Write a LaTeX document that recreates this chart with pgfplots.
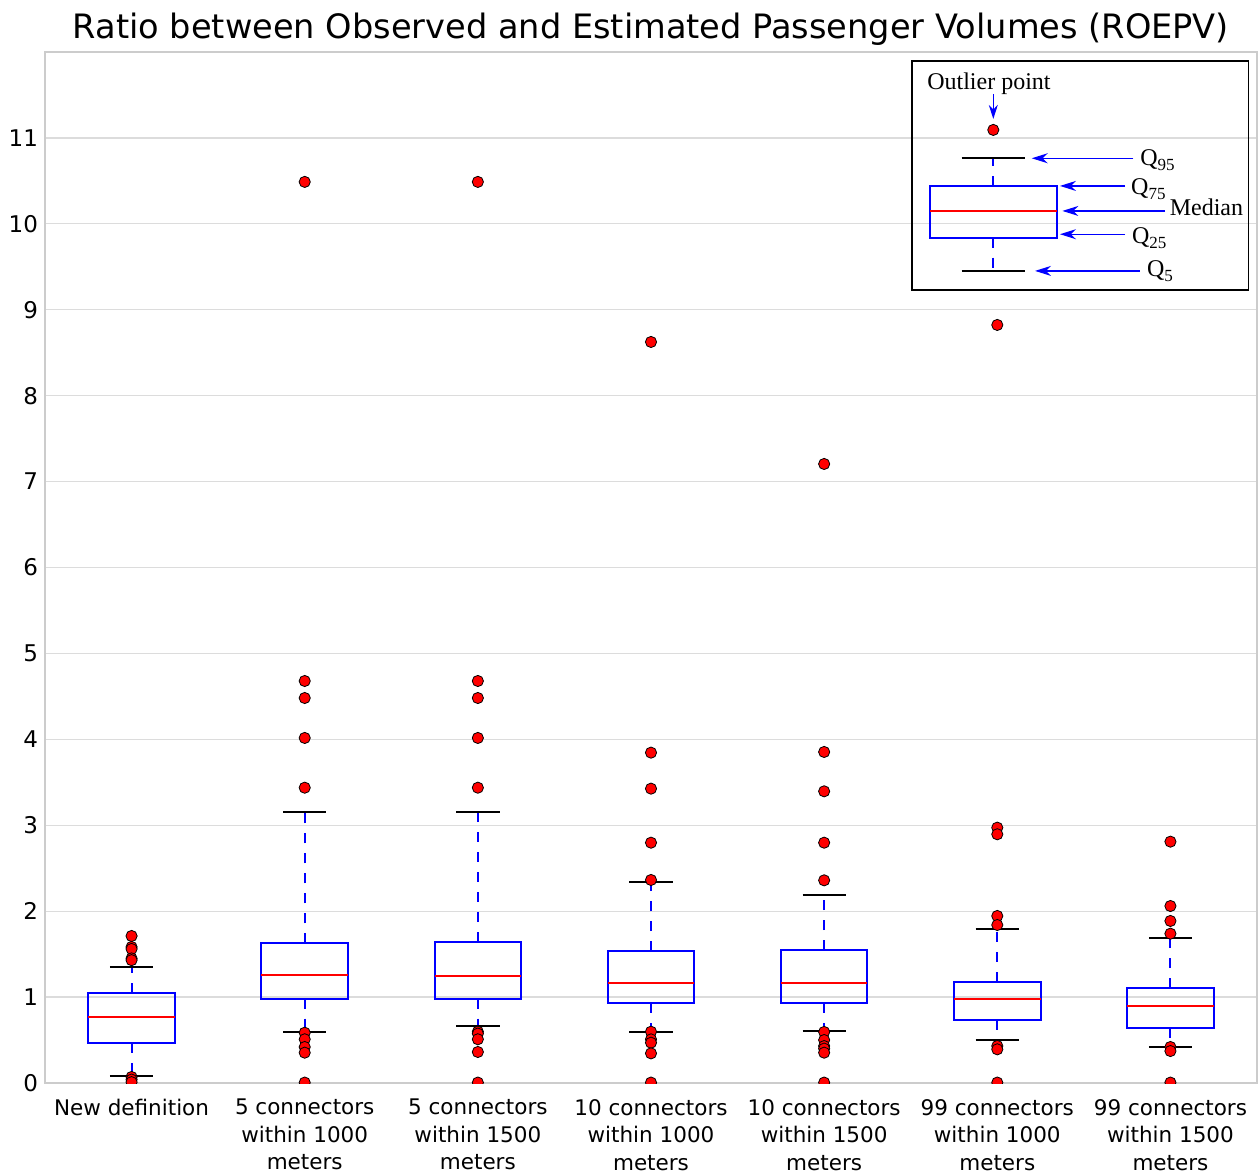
\documentclass[border=0pt]{standalone}
\usepackage{fontspec}
\setmainfont{DejaVu Sans}
\newfontfamily\legendfont{Liberation Serif}
\usepackage{pgfplots}
\pgfplotsset{compat=1.18}
\usepgfplotslibrary{statistics}
\usetikzlibrary{arrows.meta}
\definecolor{gridgray}{RGB}{220,220,220}
\definecolor{framegray}{RGB}{204,204,204}
\newcommand{\sub}[1]{\raisebox{-0.4ex}{\fontsize{8.5bp}{8.5bp}\selectfont #1}}
\begin{document}
\begin{tikzpicture}
\useasboundingbox (-22.5bp,-45bp) rectangle (607bp,541.5bp);
\begin{axis}[
  at={(0,0)}, anchor=south west,
  scale only axis, width=606bp, height=515.5bp,
  xmin=0.5, xmax=7.5, ymin=0, ymax=12,
  xtick={1,2,3,4,5,6,7},
  xticklabels={New definition,{5 connectors\\within 1000\\meters},{5 connectors\\within 1500\\meters},{10 connectors\\within 1000\\meters},{10 connectors\\within 1500\\meters},{99 connectors\\within 1000\\meters},{99 connectors\\within 1500\\meters}},
  ytick={0,1,2,3,4,5,6,7,8,9,10,11},
  ymajorgrids, grid style={draw=gridgray, line width=0.6bp},
  axis line style={draw=framegray, line width=0.8bp},
  major tick length=0pt,
  /pgf/number format/assume math mode=true,
  yticklabel style={font=\fontsize{11.5bp}{12bp}\selectfont},
  xticklabel style={font=\fontsize{10.75bp}{13.75bp}\selectfont, align=center, yshift=-4.5bp},
  title={Ratio between Observed and Estimated Passenger Volumes (ROEPV)},
  title style={font=\fontsize{16.8bp}{18bp}\selectfont, at={(0.5,1)}, anchor=base, yshift=1bp},
  clip marker paths=true,
  boxplot/draw direction=y,
  boxplot/box extend=0.5,
  boxplot/whisker extend=0.25,
  boxplot/every box/.style={draw=blue, line width=1bp},
  boxplot/every median/.style={draw=red, line width=1bp},
  boxplot/draw/whisker/.code 2 args={
    \draw[blue, line width=1bp, dash pattern=on 5bp off 5bp] (boxplot cs:#1) -- (boxplot cs:#2);
    \draw[black, line width=1bp] (boxplot whisker cs:#2,0) -- (boxplot whisker cs:#2,1);
  },
  every axis plot/.append style={mark=*, mark size=2.8bp, mark options={solid, fill=red, draw=black, line width=0.4bp}},
]
\addplot[blue, boxplot prepared={draw position=1, lower whisker=0.081, lower quartile=0.466, median=0.768, upper quartile=1.051, upper whisker=1.354}]
  table[row sep=\\, y index=0] {data\\1.711\\1.583\\1.56\\1.45\\1.43\\0.07\\0.04\\0.01\\};
\addplot[blue, boxplot prepared={draw position=2, lower whisker=0.590, lower quartile=0.982, median=1.261, upper quartile=1.626, upper whisker=3.150}]
  table[row sep=\\, y index=0] {data\\10.488\\4.679\\4.481\\4.016\\3.437\\0.585\\0.509\\0.419\\0.353\\0.005\\};
\addplot[blue, boxplot prepared={draw position=3, lower whisker=0.660, lower quartile=0.982, median=1.249, upper quartile=1.641, upper whisker=3.150}]
  table[row sep=\\, y index=0] {data\\10.488\\4.679\\4.481\\4.016\\3.437\\0.597\\0.575\\0.509\\0.361\\0.005\\};
\addplot[blue, boxplot prepared={draw position=4, lower whisker=0.597, lower quartile=0.931, median=1.160, upper quartile=1.536, upper whisker=2.343}]
  table[row sep=\\, y index=0] {data\\8.625\\3.845\\3.426\\2.797\\2.363\\0.597\\0.508\\0.469\\0.345\\0.005\\};
\addplot[blue, boxplot prepared={draw position=5, lower whisker=0.601, lower quartile=0.927, median=1.164, upper quartile=1.548, upper whisker=2.192}]
  table[row sep=\\, y index=0] {data\\7.205\\3.853\\3.395\\2.797\\2.359\\0.594\\0.5\\0.43\\0.4\\0.353\\0.005\\};
\addplot[blue, boxplot prepared={draw position=6, lower whisker=0.497, lower quartile=0.737, median=0.978, upper quartile=1.176, upper whisker=1.789}]
  table[row sep=\\, y index=0] {data\\8.823\\2.972\\2.895\\1.944\\1.839\\0.431\\0.392\\0.005\\};
\addplot[blue, boxplot prepared={draw position=7, lower whisker=0.423, lower quartile=0.644, median=0.893, upper quartile=1.106, upper whisker=1.692}]
  table[row sep=\\, y index=0] {data\\2.809\\2.060\\1.886\\1.738\\0.419\\0.372\\0.005\\};
% legend explanation box
\addplot[blue, boxplot prepared={draw position=5.977, lower whisker=9.448, lower quartile=9.839, median=10.150, upper quartile=10.445, upper whisker=10.763, box extend=0.73, whisker extend=0.365}]
  table[row sep=\\, y index=0] {data\\11.093\\};
\draw[black, line width=0.8bp] (axis cs:5.509,11.896) rectangle (axis cs:7.450,9.227);
\begin{scope}[every node/.style={inner sep=0pt, font=\legendfont\fontsize{12bp}{12bp}\selectfont}]
\node[anchor=base] at (axis cs:5.952,11.56) {Outlier point};
\draw[blue, line width=0.6bp, -{Stealth[length=7bp,width=4.5bp]}] (axis cs:5.977,11.512) -- (axis cs:5.977,11.221);
\draw[blue, line width=0.6bp, -{Stealth[length=8bp,width=5bp]}] (axis cs:6.786,10.763) -- (axis cs:6.199,10.763);
\draw[blue, line width=0.6bp, -{Stealth[length=8bp,width=5bp]}] (axis cs:6.738,10.441) -- (axis cs:6.362,10.441);
\draw[blue, line width=0.6bp, -{Stealth[length=8bp,width=5bp]}] (axis cs:6.969,10.150) -- (axis cs:6.376,10.150);
\draw[blue, line width=0.6bp, -{Stealth[length=8bp,width=5bp]}] (axis cs:6.738,9.879) -- (axis cs:6.362,9.879);
\draw[blue, line width=0.6bp, -{Stealth[length=8bp,width=5bp]}] (axis cs:6.824,9.452) -- (axis cs:6.218,9.452);
\node[anchor=base west] at (axis cs:6.824,10.674) {Q\sub{95}};
\node[anchor=base west] at (axis cs:6.771,10.336) {Q\sub{75}};
\node[anchor=base west] at (axis cs:6.994,10.092) {Median};
\node[anchor=base west] at (axis cs:6.776,9.766) {Q\sub{25}};
\node[anchor=base west] at (axis cs:6.863,9.382) {Q\sub{5}};
\end{scope}
\end{axis}
\end{tikzpicture}
\end{document}
